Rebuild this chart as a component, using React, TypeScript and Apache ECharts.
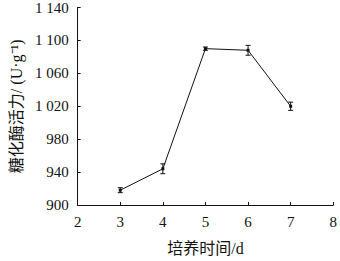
import React, { useEffect, useRef } from "react";
import * as echarts from "echarts";

const days = [3, 4, 5, 6, 7];
const activity = [918, 944, 1090, 1088, 1020];
const errors = [3, 6, 2, 6, 5];
const yTicks = [900, 940, 980, 1020, 1060, 1100, 1140];

const fmt = (v: number) => {
  const s = String(v);
  return s.length > 3 ? s.slice(0, s.length - 3) + " " + s.slice(-3) : s;
};

export default function App() {
  const ref = useRef<HTMLDivElement>(null);
  useEffect(() => {
    const chart = echarts.init(ref.current!, null, { renderer: "svg" });
    const serif = "'Liberation Serif', 'Times New Roman', serif";
    const cjk = "'Liberation Serif', 'Noto Sans CJK SC', serif";
    chart.setOption({
      animation: false,
      backgroundColor: "#fff",
      grid: { left: 71, right: 4, top: 6, bottom: 49 },
      xAxis: {
        type: "value",
        min: 2,
        max: 8,
        interval: 1,
        name: "培养时间/d",
        nameLocation: "middle",
        nameGap: 35,
        nameTextStyle: { fontFamily: cjk, fontSize: 16, color: "#111" },
        axisLine: { lineStyle: { color: "#111", width: 1 } },
        axisTick: { inside: true, length: 3, lineStyle: { color: "#111" } },
        axisLabel: { fontFamily: serif, fontSize: 15, color: "#111", margin: 9 },
        splitLine: { show: false },
      },
      yAxis: {
        type: "value",
        min: yTicks[0],
        max: yTicks[yTicks.length - 1],
        interval: 40,
        name: "糖化酶活力/ (U·g⁻¹)",
        nameLocation: "middle",
        nameGap: 47,
        nameTextStyle: { fontFamily: cjk, fontSize: 16, color: "#111" },
        axisLine: { show: true, lineStyle: { color: "#111", width: 1 } },
        axisTick: { show: true, inside: true, length: 3, lineStyle: { color: "#111" } },
        axisLabel: { fontFamily: serif, fontSize: 15, color: "#111", margin: 9, formatter: (v: number) => fmt(v) },
        splitLine: { show: false },
      },
      series: [
        {
          type: "line",
          data: days.map((d, i) => [d, activity[i]]),
          symbol: "rect",
          symbolSize: 3,
          lineStyle: { color: "#111", width: 1 },
          itemStyle: { color: "#111" },
        },
        {
          type: "custom",
          data: days.map((d, i) => [d, activity[i] - errors[i], activity[i] + errors[i]]),
          renderItem: (params: any, api: any) => {
            const x = api.value(0);
            const lo = api.coord([x, api.value(1)]);
            const hi = api.coord([x, api.value(2)]);
            const w = 2.5;
            const style = { stroke: "#111", lineWidth: 1 };
            return {
              type: "group",
              children: [
                { type: "line", shape: { x1: lo[0], y1: lo[1], x2: hi[0], y2: hi[1] }, style },
                { type: "line", shape: { x1: lo[0] - w, y1: lo[1], x2: lo[0] + w, y2: lo[1] }, style },
                { type: "line", shape: { x1: hi[0] - w, y1: hi[1], x2: hi[0] + w, y2: hi[1] }, style },
              ],
            };
          },
          z: 3,
        },
      ],
    });
    return () => chart.dispose();
  }, []);
  return <div ref={ref} style={{ width: 340, height: 261, position: "absolute", left: 0, top: 0 }} />;
}
